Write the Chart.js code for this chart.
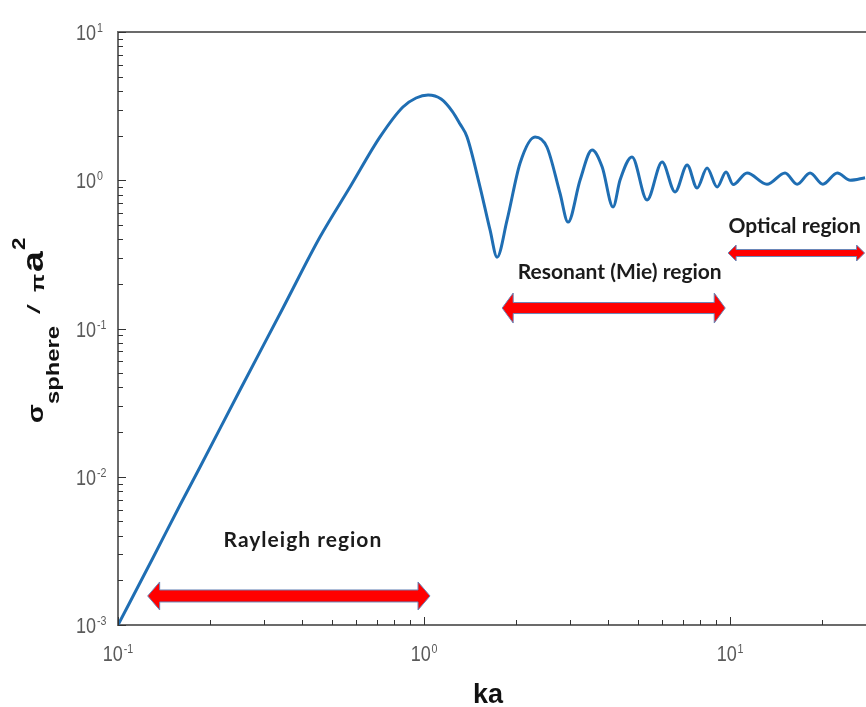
<!DOCTYPE html>
<html>
<head>
<meta charset="utf-8">
<script src="https://cdn.jsdelivr.net/npm/chart.js@4.4.1/dist/chart.umd.min.js"></script>
<style>
  html, body { margin:0; padding:0; background:#fff; }
  #wrap { width:866px; height:707px; }
</style>
</head>
<body>
<div id="wrap"><canvas id="rcs"></canvas></div>
<script>
// ka values and normalised backscatter (sigma / pi a^2)
const kaValues = [0.1, 0.13, 0.1595, 0.1854, 0.2504, 0.346, 0.457, 0.573, 0.718, 0.853, 0.9417, 1.031, 1.137, 1.235,
  1.311, 1.382, 1.524, 1.643, 1.732, 1.868, 2.06, 2.305, 2.52, 2.78, 2.955, 3.235, 3.54, 3.82, 4.146, 4.37, 4.78,
  5.355, 5.996, 6.61, 7.24, 7.80, 8.41, 9.07, 9.70, 10.23, 11.36, 13.2, 15.12, 16.56, 18.25, 20.1, 22.4, 24.7, 27.6];
const sigmaValues = [0.001, 0.00283, 0.00645, 0.01164, 0.03847, 0.1375, 0.414, 0.90, 1.96, 3.12, 3.588, 3.76, 3.532, 2.93,
  2.396, 1.96, 0.90, 0.462, 0.303, 0.540, 1.307, 1.96, 1.676, 0.820, 0.522, 1.004, 1.60, 1.228, 0.660, 1.004, 1.435,
  0.736, 1.328, 0.834, 1.267, 0.887, 1.21, 0.90, 1.137, 0.935, 1.12, 0.94, 1.12, 0.94, 1.12, 0.94, 1.12, 1.0, 1.04];

const xTicks = [0.1, 1, 10];
const xTickExp = ['-1', '0', '1'];
const yTicks = [0.001, 0.01, 0.1, 1, 10];
const yTickExp = ['-3', '-2', '-1', '0', '1'];

const regionNames = ['Rayleigh region', 'Resonant (Mie) region', 'Optical region'];
const regionFrom = [0.125, 1.80, 9.85];
const regionTo = [1.046, 9.64, 27.5];
const regionLevel = [0.00157, 0.1374, 0.323];
const regionLabelKa = [0.402, 4.36, 16.25];
const regionLabelLevel = [0.00374, 0.240, 0.491];

const arrowStyle = [
  { shaft:12, head:28, headLen:12 },
  { shaft:11, head:30, headLen:11 },
  { shaft:7, head:16, headLen:8 }
];
const labelSpacing = ['1px', '0px', '0px'];

function minorValues(min, max){
  const out = [];
  for(let e = Math.floor(Math.log10(min)); e <= Math.ceil(Math.log10(max)); e++){
    for(let k = 2; k <= 9; k++){
      const v = k * Math.pow(10, e);
      if(v > min && v < max) out.push(v);
    }
  }
  return out;
}

function drawArrow(ctx, x1, x2, y, st){
  const h = st.head / 2, s = st.shaft / 2, hl = st.headLen;
  ctx.beginPath();
  ctx.moveTo(x1, y);
  ctx.lineTo(x1 + hl, y - h);
  ctx.lineTo(x1 + hl, y - s);
  ctx.lineTo(x2 - hl, y - s);
  ctx.lineTo(x2 - hl, y - h);
  ctx.lineTo(x2, y);
  ctx.lineTo(x2 - hl, y + h);
  ctx.lineTo(x2 - hl, y + s);
  ctx.lineTo(x1 + hl, y + s);
  ctx.lineTo(x1 + hl, y + h);
  ctx.closePath();
  ctx.fillStyle = '#ff0000';
  ctx.fill();
  ctx.strokeStyle = '#6a86b8';
  ctx.lineWidth = 1;
  ctx.stroke();
}

const decorPlugin = {
  id: 'decor',
  afterDraw(chart){
    const ctx = chart.ctx;
    const xs = chart.scales.x, ys = chart.scales.y;
    const area = chart.chartArea;
    ctx.save();

    // top box line
    ctx.strokeStyle = '#6b6b6b';
    ctx.lineWidth = 2;
    ctx.beginPath();
    ctx.moveTo(area.left, area.top);
    ctx.lineTo(area.right, area.top);
    ctx.stroke();

    // inward ticks
    ctx.strokeStyle = '#333';
    ctx.lineWidth = 1;
    ctx.beginPath();
    minorValues(xs.min, xs.max).forEach(v => {
      const px = Math.round(xs.getPixelForValue(v)) + 0.5;
      ctx.moveTo(px, area.bottom); ctx.lineTo(px, area.bottom - 5);
    });
    xTicks.forEach(v => {
      const px = Math.round(xs.getPixelForValue(v)) + 0.5;
      ctx.moveTo(px, area.bottom); ctx.lineTo(px, area.bottom - 8);
    });
    minorValues(ys.min, ys.max).forEach(v => {
      const py = Math.round(ys.getPixelForValue(v)) + 0.5;
      ctx.moveTo(area.left, py); ctx.lineTo(area.left + 5, py);
    });
    yTicks.forEach(v => {
      const py = Math.round(ys.getPixelForValue(v)) + 0.5;
      ctx.moveTo(area.left, py); ctx.lineTo(area.left + 8, py);
    });
    ctx.stroke();

    // tick labels: "10" with raised exponent, narrow gray type
    const SX = 0.82;
    ctx.fillStyle = '#5a5a5a';
    ctx.textBaseline = 'alphabetic';
    ctx.textAlign = 'left';
    const baseFont = '22px "Liberation Sans", Arial, sans-serif';
    const expFont = '13px "Liberation Sans", Arial, sans-serif';
    function tickLabel(exp, left, base){
      ctx.save();
      ctx.translate(left, base);
      ctx.scale(SX, 1);
      ctx.font = baseFont;
      ctx.fillText('10', 0, 0);
      const w = ctx.measureText('10').width;
      ctx.font = expFont;
      ctx.fillText(exp, w + 1, -8);
      ctx.restore();
    }
    function labelWidth(exp){
      ctx.font = baseFont;
      const w = ctx.measureText('10').width;
      ctx.font = expFont;
      return (w + 1 + ctx.measureText(exp).width) * SX;
    }
    yTicks.forEach((v, i) => {
      const py = ys.getPixelForValue(v);
      tickLabel(yTickExp[i], area.left - 42, py + 8);
    });
    xTicks.forEach((v, i) => {
      const px = xs.getPixelForValue(v);
      tickLabel(xTickExp[i], px - labelWidth(xTickExp[i]) / 2, area.bottom + 36);
    });

    // x title
    ctx.fillStyle = '#111';
    ctx.font = 'bold 27px "Liberation Sans", Arial, sans-serif';
    ctx.textAlign = 'center';
    ctx.fillText('ka', (area.left + 858) / 2, 703);

    // y title, rotated
    ctx.save();
    ctx.translate(43, 423);
    ctx.rotate(-Math.PI / 2);
    ctx.textAlign = 'left';
    const TS = 1.25;
    ctx.scale(TS, 1);
    function put(text, font, along, across){
      ctx.font = font;
      ctx.fillText(text, along / TS, across);
    }
    put('\u03c3', 'bold 22px "Liberation Sans", Arial, sans-serif', 0, 0);
    put('sphere', 'bold 19px "Liberation Sans", Arial, sans-serif', 19, 16);
    put('/', 'bold italic 19px "Liberation Sans", Arial, sans-serif', 110, -3);
    put('\u03c0', 'bold 19px "Liberation Sans", Arial, sans-serif', 131, 1);
    put('a', 'bold 30px "Liberation Sans", Arial, sans-serif', 151, 0);
    put('2', 'bold 18px "Liberation Sans", Arial, sans-serif', 173, -18);
    ctx.restore();

    // region arrows and names
    regionNames.forEach((name, i) => {
      const x1 = xs.getPixelForValue(regionFrom[i]);
      const x2 = xs.getPixelForValue(regionTo[i]);
      const y = ys.getPixelForValue(regionLevel[i]);
      drawArrow(ctx, x1, x2, y, arrowStyle[i]);
      ctx.fillStyle = '#1b1b1b';
      ctx.font = 'bold 21px Lato, "Open Sans", sans-serif';
      ctx.letterSpacing = labelSpacing[i];
      ctx.textAlign = 'center';
      ctx.textBaseline = 'middle';
      ctx.fillText(name, xs.getPixelForValue(regionLabelKa[i]), ys.getPixelForValue(regionLabelLevel[i]));
      ctx.letterSpacing = '0px';
      ctx.textBaseline = 'alphabetic';
    });

    ctx.restore();
  }
};

const points = kaValues.map((ka, i) => ({ x: ka, y: sigmaValues[i] }));

new Chart(document.getElementById('rcs'), {
  type: 'line',
  data: {
    datasets: [{
      data: points,
      borderColor: '#1f6eb3',
      borderWidth: 3,
      pointRadius: 0,
      cubicInterpolationMode: 'monotone',
      fill: false
    }]
  },
  options: {
    responsive: true,
    maintainAspectRatio: false,
    animation: false,
    events: [],
    layout: { padding: { left: 118, top: 32, right: 0, bottom: 82 } },
    plugins: { legend: { display: false }, tooltip: { enabled: false } },
    scales: {
      x: {
        type: 'logarithmic',
        min: 0.1,
        max: 27.8,
        ticks: { display: false },
        grid: { display: true, drawOnChartArea: false, drawTicks: false },
        border: { display: true, color: '#6b6b6b', width: 2 }
      },
      y: {
        type: 'logarithmic',
        min: 0.001,
        max: 10,
        ticks: { display: false },
        grid: { display: true, drawOnChartArea: false, drawTicks: false },
        border: { display: true, color: '#6b6b6b', width: 2 }
      }
    }
  },
  plugins: [decorPlugin]
});
</script>
</body>
</html>
